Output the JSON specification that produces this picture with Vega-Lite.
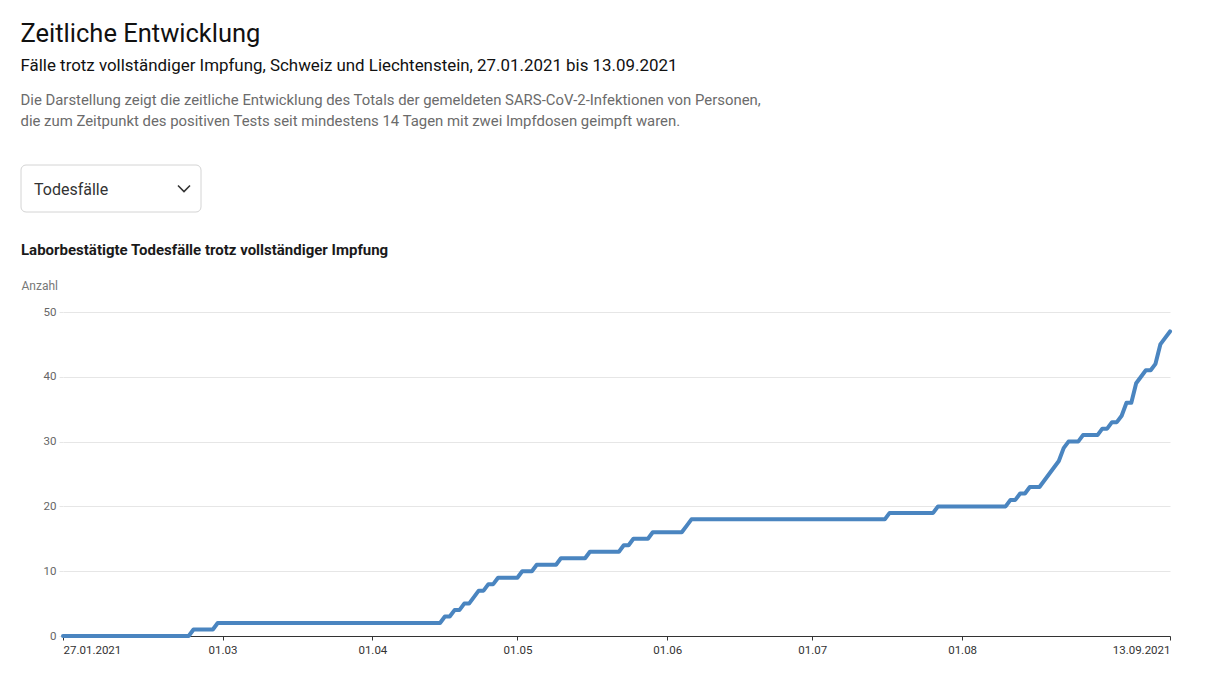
{
  "$schema": "https://vega.github.io/schema/vega-lite/v6.json",
  "background": "white",
  "padding": {"left": 20, "top": 22, "right": 20, "bottom": 10},
  "title": {
    "text": "Zeitliche Entwicklung",
    "subtitle": "Fälle trotz vollständiger Impfung, Schweiz und Liechtenstein, 27.01.2021 bis 13.09.2021",
    "anchor": "start",
    "font": "Roboto",
    "fontSize": 25.5,
    "fontWeight": "normal",
    "color": "#111111",
    "subtitleFont": "Roboto",
    "subtitleFontSize": 16.9,
    "subtitleFontWeight": "normal",
    "subtitleColor": "#111111",
    "subtitlePadding": 10.5,
    "offset": 18.5
  },
  "columns": 1,
  "spacing": 30,
  "concat": [
    {
      "width": 138,
      "height": 47,
      "view": {"stroke": null},
      "title": {
        "text": [
          "Die Darstellung zeigt die zeitliche Entwicklung des Totals der gemeldeten SARS-CoV-2-Infektionen von Personen,",
          "die zum Zeitpunkt des positiven Tests seit mindestens 14 Tagen mit zwei Impfdosen geimpft waren."
        ],
        "anchor": "start",
        "font": "Roboto",
        "fontSize": 14.9,
        "fontWeight": "normal",
        "color": "#6b6b6b",
        "lineHeight": 21.5,
        "offset": 35.5
      },
      "data": {"values": [{"auswahl": "Todesfälle"}]},
      "layer": [
        {
          "mark": {"type": "rect", "fill": "white", "stroke": "#d4d4d4", "strokeWidth": 1, "cornerRadius": 5},
          "encoding": {
            "x": {"datum": 0, "type": "quantitative", "scale": {"domain": [0, 1], "range": [-42, 138]}, "axis": null},
            "x2": {"datum": 1},
            "y": {"datum": 0, "type": "quantitative", "scale": {"domain": [0, 1]}, "axis": null},
            "y2": {"datum": 1}
          }
        },
        {
          "mark": {"type": "text", "align": "left", "baseline": "middle", "dx": 13, "dy": 1, "font": "Roboto", "fontSize": 16, "color": "#333333"},
          "encoding": {
            "text": {"field": "auswahl", "type": "nominal"},
            "x": {"datum": 0, "type": "quantitative"},
            "y": {"datum": 0.5, "type": "quantitative"}
          }
        },
        {
          "mark": {"type": "point", "shape": "M -1 -0.5 L 0 0.5 L 1 -0.5", "filled": false, "size": 144, "stroke": "#333333", "strokeWidth": 1.6, "opacity": 1, "xOffset": -17},
          "encoding": {
            "x": {"datum": 1, "type": "quantitative"},
            "y": {"datum": 0.5, "type": "quantitative"}
          }
        }
      ]
    },
    {
      "width": 1107,
      "height": 324,
      "view": {"stroke": null},
      "title": {
        "text": "Laborbestätigte Todesfälle trotz vollständiger Impfung",
        "anchor": "start",
        "font": "Roboto",
        "fontSize": 15,
        "fontWeight": "bold",
        "color": "#1a1a1a",
        "offset": 21
      },
      "data": {
        "values": [
          {"datum": "2021-01-27", "anzahl": 0},
          {"datum": "2021-02-22", "anzahl": 0},
          {"datum": "2021-02-23", "anzahl": 1},
          {"datum": "2021-02-27", "anzahl": 1},
          {"datum": "2021-02-28", "anzahl": 2},
          {"datum": "2021-04-15", "anzahl": 2},
          {"datum": "2021-04-16", "anzahl": 3},
          {"datum": "2021-04-17", "anzahl": 3},
          {"datum": "2021-04-18", "anzahl": 4},
          {"datum": "2021-04-19", "anzahl": 4},
          {"datum": "2021-04-20", "anzahl": 5},
          {"datum": "2021-04-21", "anzahl": 5},
          {"datum": "2021-04-22", "anzahl": 6},
          {"datum": "2021-04-23", "anzahl": 7},
          {"datum": "2021-04-24", "anzahl": 7},
          {"datum": "2021-04-25", "anzahl": 8},
          {"datum": "2021-04-26", "anzahl": 8},
          {"datum": "2021-04-27", "anzahl": 9},
          {"datum": "2021-05-01", "anzahl": 9},
          {"datum": "2021-05-02", "anzahl": 10},
          {"datum": "2021-05-04", "anzahl": 10},
          {"datum": "2021-05-05", "anzahl": 11},
          {"datum": "2021-05-09", "anzahl": 11},
          {"datum": "2021-05-10", "anzahl": 12},
          {"datum": "2021-05-15", "anzahl": 12},
          {"datum": "2021-05-16", "anzahl": 13},
          {"datum": "2021-05-22", "anzahl": 13},
          {"datum": "2021-05-23", "anzahl": 14},
          {"datum": "2021-05-24", "anzahl": 14},
          {"datum": "2021-05-25", "anzahl": 15},
          {"datum": "2021-05-28", "anzahl": 15},
          {"datum": "2021-05-29", "anzahl": 16},
          {"datum": "2021-06-04", "anzahl": 16},
          {"datum": "2021-06-05", "anzahl": 17},
          {"datum": "2021-06-06", "anzahl": 18},
          {"datum": "2021-07-16", "anzahl": 18},
          {"datum": "2021-07-17", "anzahl": 19},
          {"datum": "2021-07-26", "anzahl": 19},
          {"datum": "2021-07-27", "anzahl": 20},
          {"datum": "2021-08-10", "anzahl": 20},
          {"datum": "2021-08-11", "anzahl": 21},
          {"datum": "2021-08-12", "anzahl": 21},
          {"datum": "2021-08-13", "anzahl": 22},
          {"datum": "2021-08-14", "anzahl": 22},
          {"datum": "2021-08-15", "anzahl": 23},
          {"datum": "2021-08-17", "anzahl": 23},
          {"datum": "2021-08-18", "anzahl": 24},
          {"datum": "2021-08-19", "anzahl": 25},
          {"datum": "2021-08-20", "anzahl": 26},
          {"datum": "2021-08-21", "anzahl": 27},
          {"datum": "2021-08-22", "anzahl": 29},
          {"datum": "2021-08-23", "anzahl": 30},
          {"datum": "2021-08-24", "anzahl": 30},
          {"datum": "2021-08-25", "anzahl": 30},
          {"datum": "2021-08-26", "anzahl": 31},
          {"datum": "2021-08-29", "anzahl": 31},
          {"datum": "2021-08-30", "anzahl": 32},
          {"datum": "2021-08-31", "anzahl": 32},
          {"datum": "2021-09-01", "anzahl": 33},
          {"datum": "2021-09-02", "anzahl": 33},
          {"datum": "2021-09-03", "anzahl": 34},
          {"datum": "2021-09-04", "anzahl": 36},
          {"datum": "2021-09-05", "anzahl": 36},
          {"datum": "2021-09-06", "anzahl": 39},
          {"datum": "2021-09-07", "anzahl": 40},
          {"datum": "2021-09-08", "anzahl": 41},
          {"datum": "2021-09-09", "anzahl": 41},
          {"datum": "2021-09-10", "anzahl": 42},
          {"datum": "2021-09-11", "anzahl": 45},
          {"datum": "2021-09-12", "anzahl": 46},
          {"datum": "2021-09-13", "anzahl": 47}
        ]
      },
      "mark": {"type": "line", "color": "#4a85c0", "strokeWidth": 4, "strokeJoin": "round", "strokeCap": "round"},
      "encoding": {
        "x": {
          "field": "datum",
          "type": "temporal",
          "scale": {
            "type": "utc",
            "nice": false,
            "domain": [
              {"year": 2021, "month": 1, "date": 27, "utc": true},
              {"year": 2021, "month": 9, "date": 13, "utc": true}
            ]
          },
          "axis": {
            "title": null,
            "grid": false,
            "values": [
              {"year": 2021, "month": 1, "date": 27, "utc": true},
              {"year": 2021, "month": 3, "date": 1, "utc": true},
              {"year": 2021, "month": 4, "date": 1, "utc": true},
              {"year": 2021, "month": 5, "date": 1, "utc": true},
              {"year": 2021, "month": 6, "date": 1, "utc": true},
              {"year": 2021, "month": 7, "date": 1, "utc": true},
              {"year": 2021, "month": 8, "date": 1, "utc": true},
              {"year": 2021, "month": 9, "date": 13, "utc": true}
            ],
            "labelExpr": "utcFormat(datum.value, (utcmonth(datum.value) == 0 || utcmonth(datum.value) == 8) ? '%d.%m.%Y' : '%d.%m')",
            "labelFlush": true,
            "labelOverlap": false,
            "labelFont": "Roboto",
            "labelFontSize": 11.5,
            "labelColor": "#333333",
            "labelPadding": 4,
            "tickSize": 4,
            "tickColor": "#333333",
            "domainColor": "#333333",
            "domainWidth": 1
          }
        },
        "y": {
          "field": "anzahl",
          "type": "quantitative",
          "scale": {"domain": [0, 50], "nice": false},
          "axis": {
            "values": [0, 10, 20, 30, 40, 50],
            "title": "Anzahl",
            "titleAngle": 0,
            "titleAlign": "left",
            "titleBaseline": "alphabetic",
            "titleX": -42,
            "titleY": -23,
            "titleFont": "Roboto",
            "titleFontSize": 12,
            "titleFontWeight": "normal",
            "titleColor": "#777777",
            "domain": false,
            "ticks": true,
            "tickSize": 4,
            "tickColor": "#e6e6e6",
            "labelPadding": 3,
            "labelFont": "Roboto",
            "labelFontSize": 11.5,
            "labelColor": "#666666",
            "gridColor": "#e6e6e6"
          }
        }
      }
    }
  ],
  "config": {
    "font": "Roboto"
  }
}
